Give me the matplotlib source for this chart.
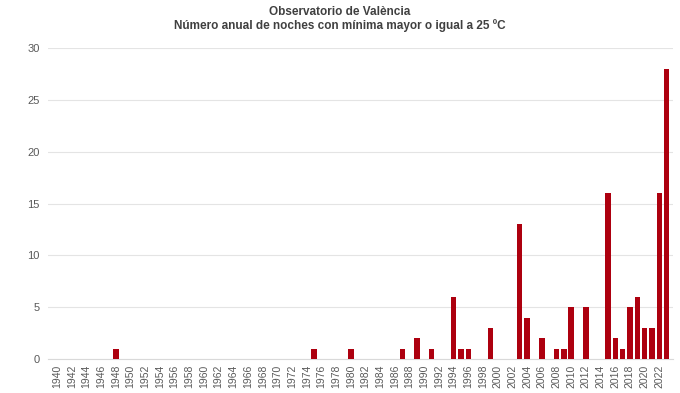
import numpy as np
import matplotlib
matplotlib.use('Agg')
from matplotlib import pyplot as plt

# años y número de noches con mínima >= 25 ºC
years = list(range(1940, 2024))
nonzero = {1948: 1, 1975: 1, 1980: 1, 1987: 1, 1989: 2, 1991: 1,
           1994: 6, 1995: 1, 1996: 1, 1999: 3, 2003: 13, 2004: 4,
           2006: 2, 2008: 1, 2009: 1, 2010: 5, 2012: 5, 2015: 16,
           2016: 2, 2017: 1, 2018: 5, 2019: 6, 2020: 3, 2021: 3,
           2022: 16, 2023: 28}
nights = [nonzero.get(y, 0) for y in years]
tick_years = list(range(1940, 2024, 2))
yticks = [0, 5, 10, 15, 20, 25, 30]

title = 'Observatorio de València\nNúmero anual de noches con mínima mayor o igual a 25 ºC'

plt.rcParams['font.family'] = ['Liberation Sans', 'DejaVu Sans']

fig = plt.figure(figsize=(6.8, 3.93), dpi=100)
ax = fig.add_axes([0.071, 0.0865, 0.918, 0.791])
ax.bar(years, nights, width=0.74, color='#AD000F', zorder=3)

ax.set_xlim(1938.8, 2023.8)
ax.set_ylim(0, 30)
ax.set_xticks(tick_years)
ax.set_xticklabels([str(y) for y in tick_years], rotation=90, fontsize=7.5, color='#595959')
ax.set_yticks(yticks)
ax.set_yticklabels([str(v) for v in yticks], fontsize=8, color='#595959')
ax.tick_params(axis='both', length=0, pad=6)
ax.tick_params(axis='x', pad=4)
ax.grid(axis='y', color='#E4E4E4', linewidth=0.8, zorder=0)
for s in ['top', 'right', 'left']:
    ax.spines[s].set_visible(False)
ax.spines['bottom'].set_color('#D9D9D9')

fig.text(0.5, 0.985, title, ha='center', va='top', fontsize=8.5,
         fontweight='bold', color='#404040', linespacing=1.1)

fig.savefig('out.png', dpi=100)
